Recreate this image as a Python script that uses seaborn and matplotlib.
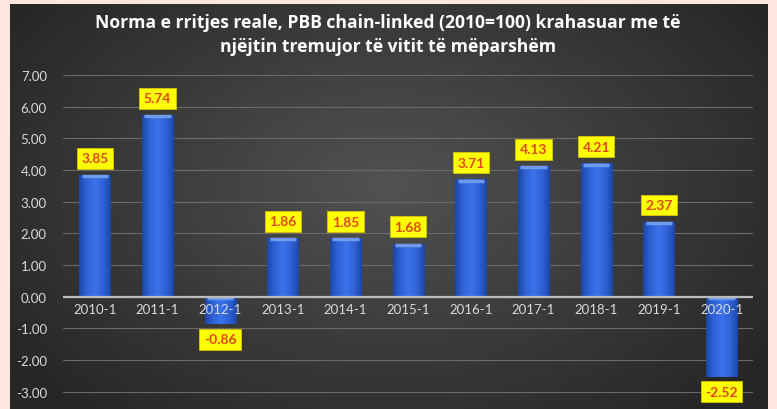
import numpy as np
import pandas as pd
import matplotlib
matplotlib.use("Agg")
import matplotlib.pyplot as plt
import seaborn as sns

categories = ["2010-1", "2011-1", "2012-1", "2013-1", "2014-1", "2015-1",
              "2016-1", "2017-1", "2018-1", "2019-1", "2020-1"]
values = [3.85, 5.74, -0.86, 1.86, 1.85, 1.68, 3.71, 4.13, 4.21, 2.37, -2.52]
yticks = [-3, -2, -1, 0, 1, 2, 3, 4, 5, 6, 7]
title = "Norma e rritjes reale, PBB chain-linked (2010=100) krahasuar me të\nnjëjtin tremujor të vitit të mëparshëm"

sns.set_theme(style="dark")
plt.rcParams['font.family'] = ['Lato', 'DejaVu Sans']

W, H = 777, 410
fig = plt.figure(figsize=(W / 100, H / 100), dpi=100)
fig.patch.set_facecolor("#fde6e0")

# dark panel with radial gradient
bg = fig.add_axes([10 / W, 0, 758 / W, 405 / H])
bg.set_axis_off()
yy, xx = np.mgrid[0:1:200j, 0:1:300j]
r = np.sqrt(((xx - 0.5) / 0.62) ** 2 + ((yy - 0.55) / 0.75) ** 2)
r = np.clip(r, 0, 1)
c0 = np.array([0x52, 0x52, 0x52]) / 255
c1 = np.array([0x26, 0x26, 0x26]) / 255
img = c0[None, None, :] * (1 - r[..., None]) + c1[None, None, :] * r[..., None]
bg.imshow(img, aspect="auto", extent=[0, 1, 0, 1], origin="lower")
bg.set_xlim(0, 1)
bg.set_ylim(0, 1)

ax = fig.add_axes([63.5 / W, 1 - 396 / H, (753 - 63.5) / W, (396 - 76) / H])
ax.set_facecolor("none")

df = pd.DataFrame({"cat": categories, "val": values})
sns.barplot(data=df, x="cat", y="val", ax=ax, color="#2f63d6", width=0.5,
            saturation=1, zorder=3, edgecolor="none", linewidth=0)

# horizontal gradient on bars
grad = np.linspace(0, 1, 64)
prof = 1 - np.abs(grad - 0.5) * 2
cmap = matplotlib.colors.LinearSegmentedColormap.from_list(
    "b", ["#1c47a8", "#2f63d6", "#3a72ea"])
for p in ax.patches:
    x0, y0 = p.get_x(), p.get_y()
    w, h = p.get_width(), p.get_height()
    lo, hi = min(y0, y0 + h), max(y0, y0 + h)
    im = ax.imshow(prof[None, :], cmap=cmap, aspect="auto",
                   extent=[x0, x0 + w, lo, hi], zorder=3.5)
    im.set_clip_path(p)
    ax.plot([x0 + w * 0.08, x0 + w * 0.92], [hi - 0.04, hi - 0.04], color="#6f9aee",
            lw=2.5, zorder=3.6, solid_capstyle="butt")

for i, v in enumerate(values):
    off = 12 if v >= 0 else -11
    ax.annotate(f"{v:.2f}", (i, v), xytext=(0, off), textcoords="offset points",
                ha="center", va="center", fontsize=10, fontweight="bold",
                color="#e2461c", zorder=6,
                bbox=dict(boxstyle="square,pad=0.32", fc="#ffff00", ec="#d8c400", lw=0.6))

ax.set_xlim(-0.5, len(categories) - 0.5)
ax.set_ylim(-3.1, 7.0)
ax.set_yticks(yticks)
ax.set_yticklabels([f"{t:.2f}" for t in yticks])
ax.grid(axis="y", color="#6a6a6a", lw=0.8, zorder=1)
ax.grid(axis="x", visible=False)
ax.axhline(0, color="#bdbdbd", lw=1.6, zorder=4)
for s in ["top", "right", "left", "bottom"]:
    ax.spines[s].set_visible(False)
ax.tick_params(axis="y", colors="#d9d9d9", labelsize=9.5, length=0, pad=12)
ax.set_xlabel("")
ax.set_ylabel("")
ax.set_xticks(range(len(categories)))
ax.set_xticklabels([])
ax.tick_params(axis="x", length=0)
for i, c in enumerate(categories):
    ax.text(i, -0.2, c, ha="center", va="top", fontsize=9.5,
            color="#d9d9d9", zorder=5)

fig.text(388 / W, 1 - 35 / H, title, ha="center", va="center", color="white",
         fontsize=12.6, fontweight="bold", linespacing=1.4,
         family=["Open Sans", "DejaVu Sans"])

fig.savefig("out.png", dpi=100, facecolor=fig.get_facecolor())
